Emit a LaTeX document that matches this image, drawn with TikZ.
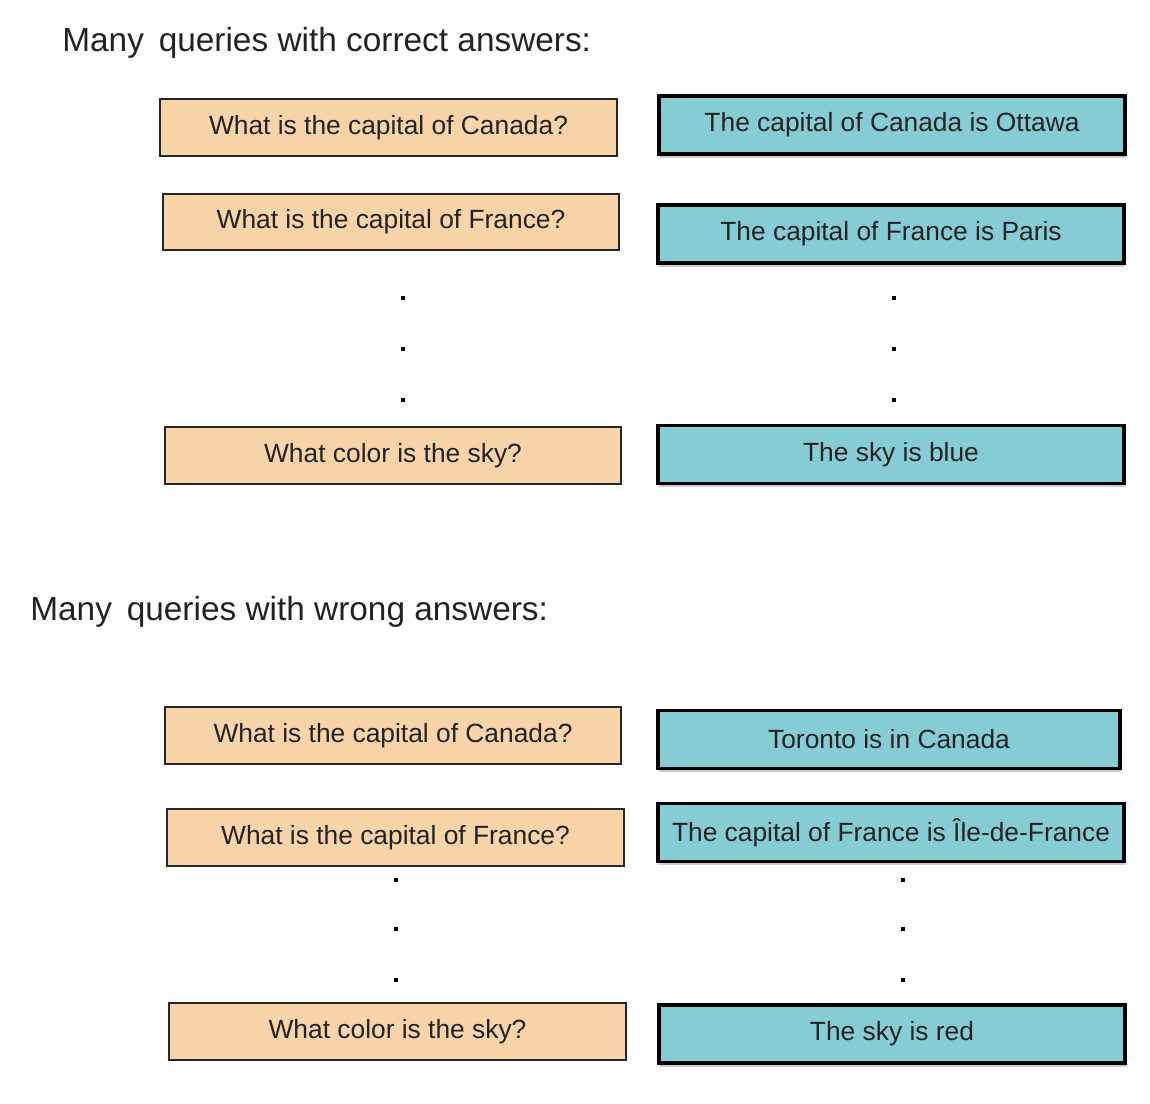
\documentclass[tikz,border=0pt]{standalone}
\usepackage{fontspec}
\setmainfont{Liberation Sans}
\usetikzlibrary{positioning,shadows}
\definecolor{qfill}{HTML}{FAD4A9}
\definecolor{afill}{HTML}{86CCD4}
\definecolor{txt}{HTML}{222222}

\begin{document}
\begin{tikzpicture}[x=0.02cm, y=-0.02cm,
    query/.style={draw=black!85, line width=1.1pt, fill=qfill, minimum width=9.14cm,
        minimum height=1.13cm, inner sep=0pt, text=txt, font=\fontsize{15}{18}\selectfont},
    answer/.style={draw=black, line width=2.2pt, fill=afill, minimum width=9.32cm,
        minimum height=1.16cm, inner sep=0pt, text=txt, font=\fontsize{15}{18}\selectfont,
        drop shadow={shadow xshift=0.8pt, shadow yshift=-2pt, opacity=0.4}},
    vdot/.style={fill=black, minimum size=0.075cm, inner sep=0pt},
    title/.style={anchor=west, text=txt, inner sep=0pt, font=\fontsize{19}{22}\selectfont}]

\useasboundingbox (0,0) rectangle (1150,1104);

% === Correct answers ===
\node[title] (tcorrect) at (62,43) {Many\, queries with correct answers:};

\node[query]  (q1) at (388.5,127.5) {What is the capital of Canada?};
\node[answer] (a1) at (892,125)     {The capital of Canada is Ottawa};
\node[query]  (q2) at (391,222)     {What is the capital of France?};
\node[answer] (a2) at (891,234)     {The capital of France is Paris};
\node[query]  (q3) at (393,455.5)   {What color is the sky?};
\node[answer] (a3) at (891,454.5)   {The sky is blue};

\foreach \y [count=\i] in {298,349,400} {
  \node[vdot] (qdot\i) at (403,\y) {};
  \node[vdot] (adot\i) at (894,\y) {};
}

% === Wrong answers ===
\node[title] (twrong) at (30,612) {Many\, queries with wrong answers:};

\node[query]  (q4) at (393,735.5)   {What is the capital of Canada?};
\node[answer, minimum width=9.24cm] (a4) at (889,739.5) {Toronto is in Canada};
\node[query]  (q5) at (395.5,837.5) {What is the capital of France?};
\node[answer] (a5) at (891,832.5)   {The capital of France is Île-de-France};
\node[query]  (q6) at (397.5,1031.5){What color is the sky?};
\node[answer] (a6) at (892,1034)    {The sky is red};

\foreach \y [count=\i] in {880,929,980} {
  \node[vdot] (wqdot\i) at (396,\y) {};
  \node[vdot] (wadot\i) at (903,\y) {};
}

\end{tikzpicture}
\end{document}
